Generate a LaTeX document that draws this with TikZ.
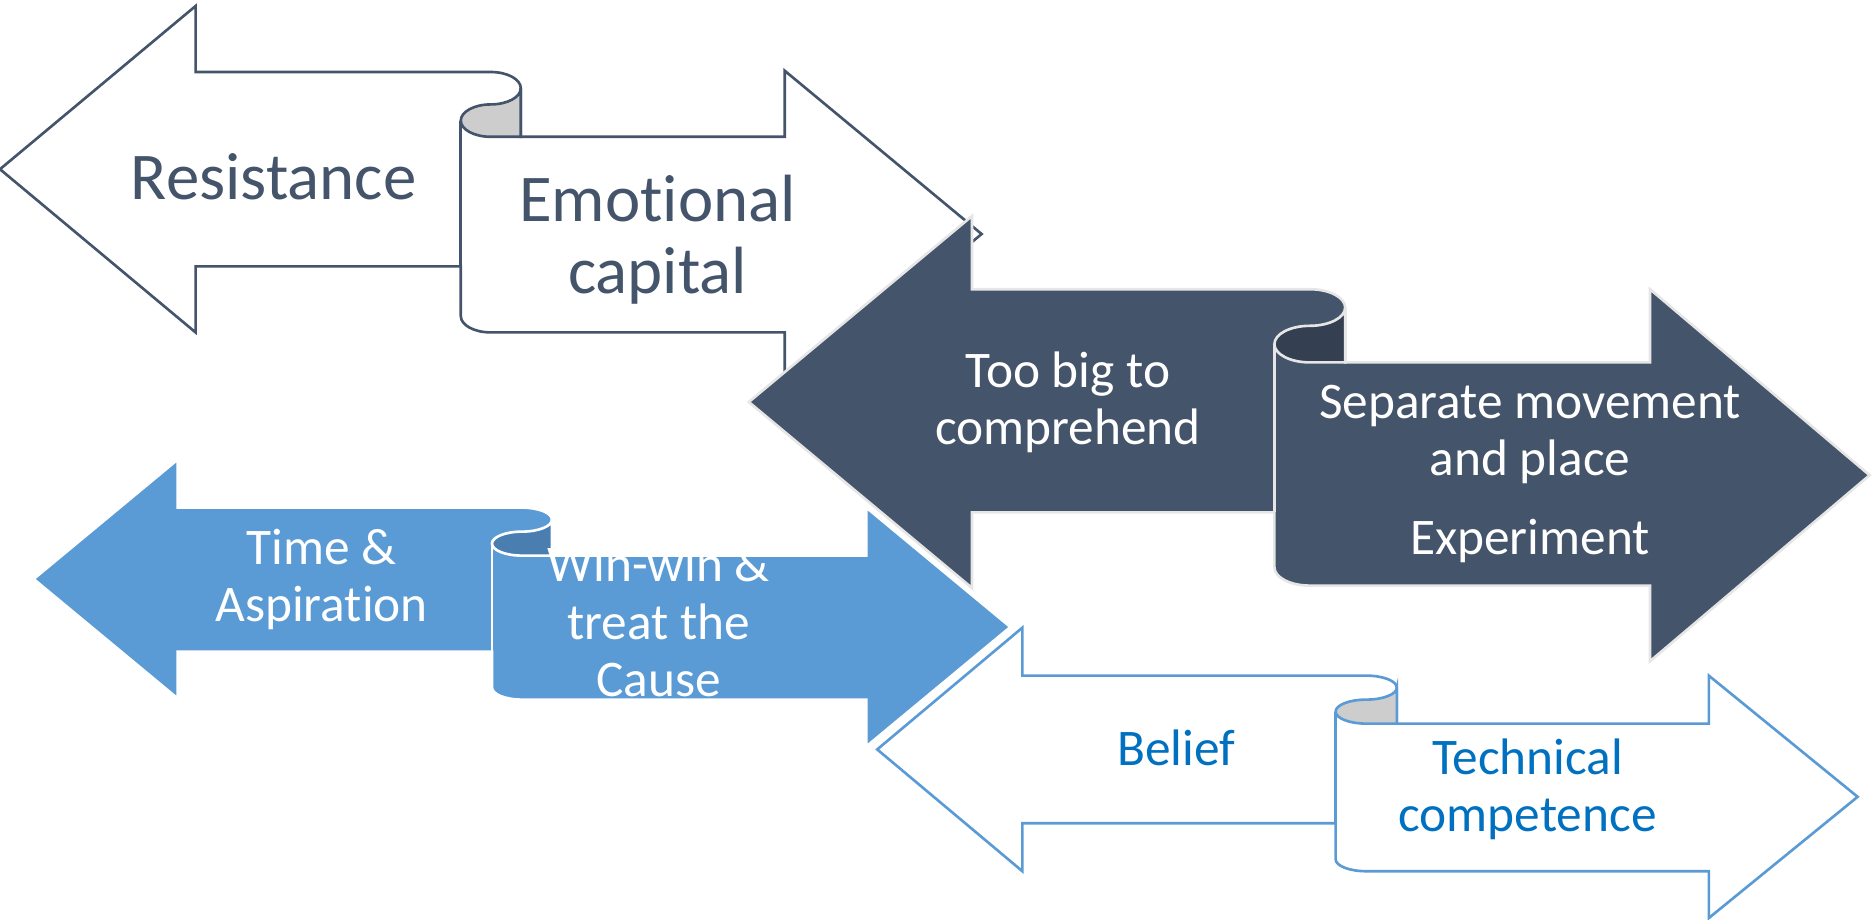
\documentclass[tikz,border=0pt]{standalone}
\usepackage{fontspec}
\setmainfont{Carlito}[Ligatures={NoCommon}]
\definecolor{slate}{RGB}{68,84,106}
\definecolor{skyblue}{RGB}{91,155,213}
\definecolor{textblue}{RGB}{0,112,192}
\definecolor{curlgrey}{RGB}{205,205,205}
\definecolor{slatecurl}{RGB}{52,64,82}
\definecolor{bluecurl}{RGB}{74,126,176}
\definecolor{rim}{RGB}{230,230,230}

\begin{document}
\begin{tikzpicture}[
    x=0.012cm, y=-0.012cm,
    edge/.style={line width=0.75pt},
    label/.style={align=center, inner sep=0pt},
    big/.style={font=\fontsize{19}{20.5}\selectfont},
    small/.style={font=\fontsize{14.6}{16.3}\selectfont}
]
    \useasboundingbox (0,0) rectangle (1560,766);

    % Resistance / Emotional capital
    \path[edge, draw=slate, fill=white] (0,141) -- (163,5) -- (163,60) -- (409,60)
        arc[start angle=-90, end angle=0, x radius=25, y radius=13.5]
        -- (434,114) -- (654,114) -- (654,59) -- (818,195) -- (654,331) -- (654,277) -- (409,277)
        arc[start angle=90, end angle=180, x radius=25, y radius=13.5]
        -- (384,222) -- (163,222) -- (163,277) -- cycle;
    \path[edge, draw=slate, fill=curlgrey] (434,73.5)
        arc[start angle=0, end angle=90, x radius=25, y radius=13.5]
        arc[start angle=-90, end angle=-270, x radius=25, y radius=13.5]
        -- (434,114) -- cycle;
    \draw[edge, slate] (384,100.5) -- (384,222);
    \node[label, big, text=slate] (resist) at (228,147) {Resistance};
    \node[label, big, text=slate] (emocap) at (548,200) {Emotional\\capital};

    % Too big to comprehend / Separate movement and place
    \path[edge, draw=rim, fill=slate] (624,335) -- (810,180) -- (810,241) -- (1091.5,241)
        arc[start angle=-90, end angle=0, x radius=29.5, y radius=15.25]
        -- (1121,302) -- (1375,302) -- (1375,241) -- (1558,396) -- (1375,551) -- (1375,488) -- (1091.5,488)
        arc[start angle=90, end angle=180, x radius=29.5, y radius=15.25]
        -- (1062,427) -- (810,427) -- (810,490) -- cycle;
    \path[edge, draw=rim, fill=slatecurl] (1121,256.25)
        arc[start angle=0, end angle=90, x radius=29.5, y radius=15.25]
        arc[start angle=-90, end angle=-270, x radius=29.5, y radius=15.25]
        -- (1121,302) -- cycle;
    \draw[edge, rim] (1062,286.75) -- (1062,427);
    \node[label, small, text=white] (toobig) at (890,335) {Too big to\\comprehend};
    \node[label, small, text=white] (separate) at (1275,395) {Separate movement\\and place\\[6pt]Experiment};

    % Time & Aspiration / Win-win
    \path[edge, draw=white, fill=skyblue] (28,482.5) -- (148,383) -- (148,423) -- (435,423)
        arc[start angle=-90, end angle=0, x radius=25, y radius=10]
        -- (460,463) -- (722,463) -- (722,423) -- (842,522.5) -- (722,622) -- (722,583) -- (435,583)
        arc[start angle=90, end angle=180, x radius=25, y radius=10]
        -- (410,543) -- (148,543) -- (148,582) -- cycle;
    \path[edge, draw=white, fill=bluecurl] (460,433)
        arc[start angle=0, end angle=90, x radius=25, y radius=10]
        arc[start angle=-90, end angle=-270, x radius=25, y radius=10]
        -- (460,463) -- cycle;
    \draw[edge, white] (410,453) -- (410,543);
    \node[label, small, text=white] (time) at (268,483) {Time \&\\Aspiration};
    \node[label, small, text=white] (winwin) at (549,518) {Win-win \&\\treat the\\Cause};

    % Belief / Technical competence
    \path[edge, draw=skyblue, fill=white] (731,624.5) -- (852,523) -- (852,563) -- (1138.5,563)
        arc[start angle=-90, end angle=0, x radius=25.5, y radius=10]
        -- (1164,603) -- (1424,603) -- (1424,563) -- (1548,664) -- (1424,765) -- (1424,726) -- (1138.5,726)
        arc[start angle=90, end angle=180, x radius=25.5, y radius=10]
        -- (1113,686) -- (852,686) -- (852,726) -- cycle;
    \path[edge, draw=skyblue, fill=curlgrey] (1164,573)
        arc[start angle=0, end angle=90, x radius=25.5, y radius=10]
        arc[start angle=-90, end angle=-270, x radius=25.5, y radius=10]
        -- (1164,603) -- cycle;
    \draw[edge, skyblue] (1113,593) -- (1113,686);
    \node[label, small, text=textblue] (belief) at (980,623) {Belief};
    \node[label, small, text=textblue] (technical) at (1273,658) {Technical\\competence};
\end{tikzpicture}
\end{document}
